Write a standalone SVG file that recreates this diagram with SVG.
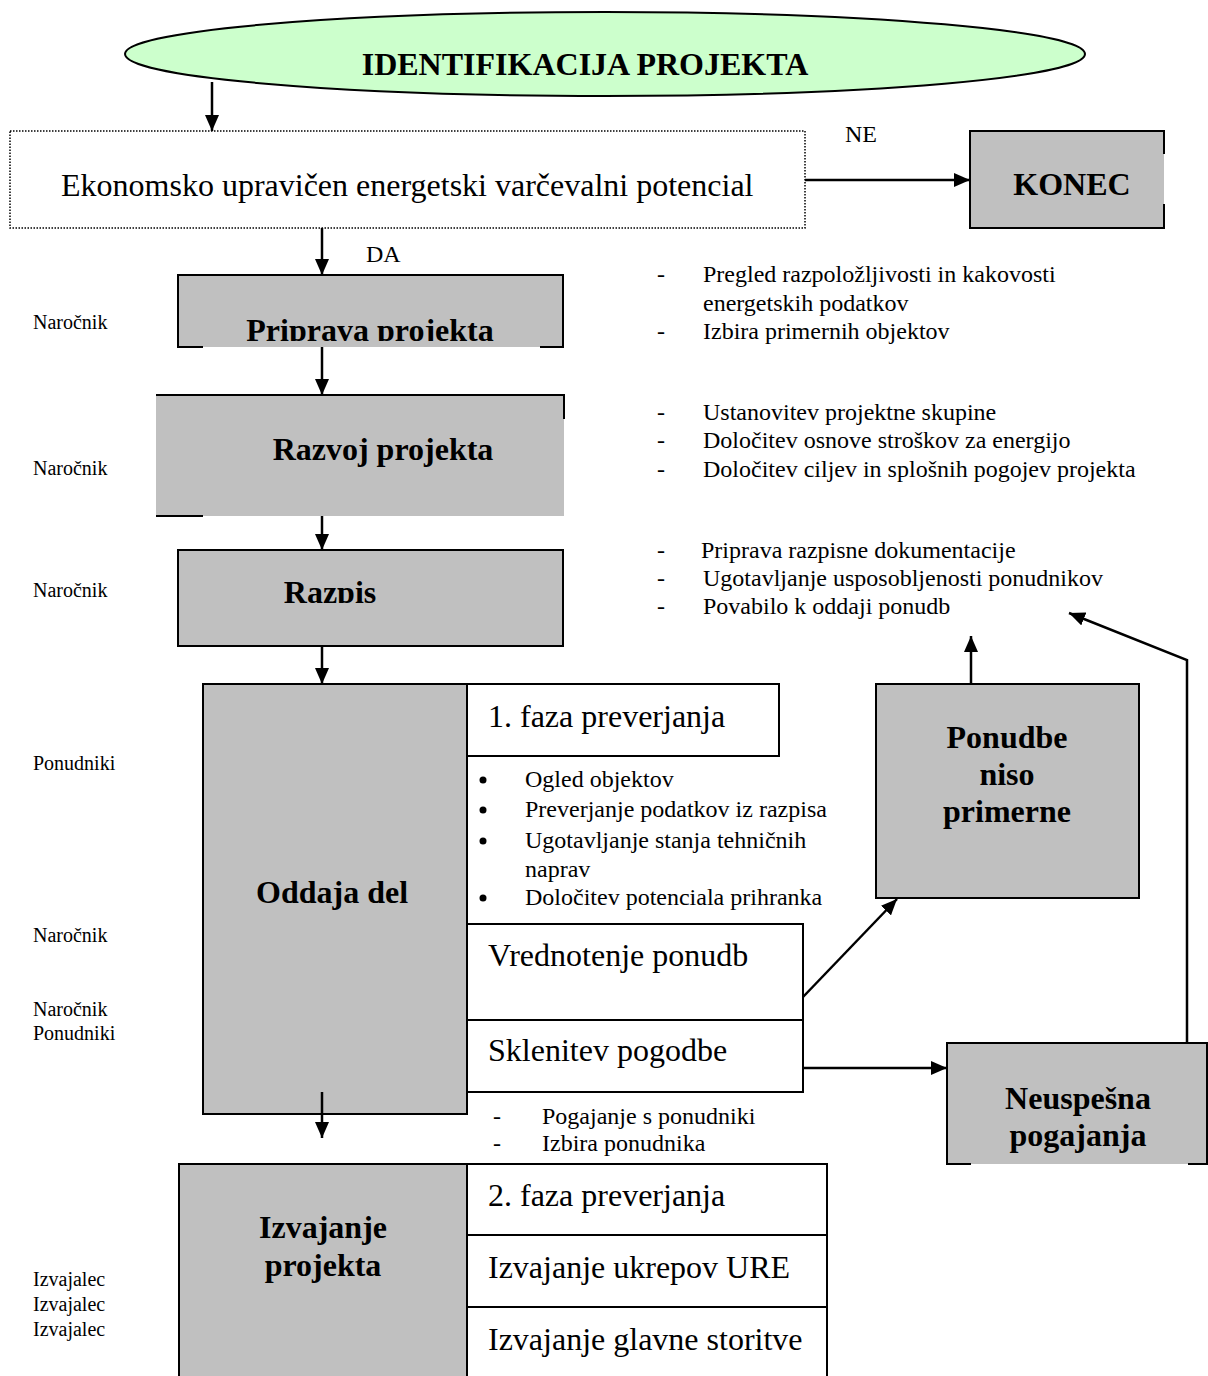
<svg xmlns="http://www.w3.org/2000/svg" width="1208" height="1376" viewBox="0 0 1208 1376">
  <defs>
    <marker id="arrow" markerUnits="userSpaceOnUse" markerWidth="16" markerHeight="14" viewBox="0 0 16 14" refX="16" refY="7" orient="auto">
      <path d="M0,0 L16,7 L0,14 z" fill="#000"/>
    </marker>
    <clipPath id="clipPriprava"><rect x="178" y="275" width="385" height="66"/></clipPath>
    <clipPath id="clipRazpis"><rect x="178" y="550" width="385" height="53"/></clipPath>
  </defs>
  <style>
    text { font-family: "Liberation Serif", "Times New Roman", serif; fill: #000; }
    .big { font-size: 32px; }
    .head { font-size: 32px; font-weight: bold; }
    .mid { font-size: 24px; }
    .lbl { font-size: 20px; }
    .c { text-anchor: middle; }
    .gray { fill: #C0C0C0; stroke: none; }
    .box { fill: #FFFFFF; stroke: #000; stroke-width: 2; }
    .grayBox { fill: #C0C0C0; stroke: #000; stroke-width: 2; }
    .edge { stroke: #000; stroke-width: 2; fill: none; }
    .conn { stroke: #000; stroke-width: 2.5; fill: none; marker-end: url(#arrow); }
  </style>

  <!-- start ellipse -->
  <g id="identifikacija">
    <ellipse cx="605" cy="54" rx="480" ry="42" fill="#CCFFCC" stroke="#000" stroke-width="2"/>
    <text class="head c" x="585" y="75">IDENTIFIKACIJA PROJEKTA</text>
  </g>

  <!-- decision box (dotted) -->
  <g id="potencial">
    <rect x="10" y="131" width="795" height="97" fill="#FFFFFF" stroke="#000" stroke-width="1.5" stroke-dasharray="1.5 1.5"/>
    <text class="big" x="61" y="196">Ekonomsko upravičen energetski varčevalni potencial</text>
  </g>

  <g id="konec">
    <rect class="gray" x="970" y="131" width="194" height="97"/>
    <path class="edge" d="M1164,154 V131 H970 V228 H1164 V204"/>
    <text class="head c" x="1072" y="195">KONEC</text>
  </g>

  <g id="priprava">
    <rect class="gray" x="178" y="275" width="385" height="72"/>
    <path class="edge" d="M203,347 H178 V275 H563 V347 H540"/>
    <text class="head c" x="370" y="341" clip-path="url(#clipPriprava)">Priprava projekta</text>
  </g>

  <g id="razvoj">
    <rect class="gray" x="156" y="395" width="408" height="121"/>
    <path class="edge" d="M156,395 H564 V419"/>
    <path class="edge" d="M156,516 H203"/>
    <text class="head c" x="383" y="460">Razvoj projekta</text>
  </g>

  <g id="razpis">
    <rect class="grayBox" x="178" y="550" width="385" height="96"/>
    <text class="head c" x="330" y="603" clip-path="url(#clipRazpis)">Razpis</text>
  </g>

  <g id="oddaja">
    <rect class="grayBox" x="203" y="684" width="264" height="430"/>
    <text class="head c" x="332" y="903">Oddaja del</text>
  </g>

  <g id="faza1">
    <rect class="box" x="467" y="684" width="312" height="72"/>
    <text class="big" x="488" y="727">1. faza preverjanja</text>
  </g>

  <g id="faza1-tocke">
    <circle cx="483" cy="780" r="3.5"/>
    <circle cx="483" cy="810" r="3.5"/>
    <circle cx="483" cy="841" r="3.5"/>
    <circle cx="483" cy="898" r="3.5"/>
    <text class="mid" x="525" y="787">Ogled objektov</text>
    <text class="mid" x="525" y="817">Preverjanje podatkov iz razpisa</text>
    <text class="mid" x="525" y="848">Ugotavljanje stanja tehničnih</text>
    <text class="mid" x="525" y="877">naprav</text>
    <text class="mid" x="525" y="905">Določitev potenciala prihranka</text>
  </g>

  <g id="vrednotenje">
    <rect class="box" x="467" y="924" width="336" height="96"/>
    <text class="big" x="488" y="966">Vrednotenje ponudb</text>
  </g>

  <g id="sklenitev">
    <rect class="box" x="467" y="1020" width="336" height="72"/>
    <text class="big" x="488" y="1061">Sklenitev pogodbe</text>
  </g>

  <g id="pogajanje-tocke">
    <text class="mid" x="493" y="1124">-</text>
    <text class="mid" x="542" y="1124">Pogajanje s ponudniki</text>
    <text class="mid" x="493" y="1151">-</text>
    <text class="mid" x="542" y="1151">Izbira ponudnika</text>
  </g>

  <g id="izvajanje">
    <rect class="grayBox" x="179" y="1164" width="288" height="220"/>
    <text class="head c" x="323" y="1238">Izvajanje</text>
    <text class="head c" x="323" y="1276">projekta</text>
  </g>

  <g id="faza2">
    <rect class="box" x="467" y="1164" width="360" height="71"/>
    <text class="big" x="488" y="1206">2. faza preverjanja</text>
  </g>
  <g id="ukrepi">
    <rect class="box" x="467" y="1235" width="360" height="72"/>
    <text class="big" x="488" y="1278">Izvajanje ukrepov URE</text>
  </g>
  <g id="glavna">
    <rect class="box" x="467" y="1307" width="360" height="77"/>
    <text class="big" x="488" y="1350">Izvajanje glavne storitve</text>
  </g>

  <g id="ponudbe-niso">
    <rect class="grayBox" x="876" y="684" width="263" height="214"/>
    <text class="head c" x="1007" y="748">Ponudbe</text>
    <text class="head c" x="1007" y="785">niso</text>
    <text class="head c" x="1007" y="822">primerne</text>
  </g>

  <g id="neuspesna">
    <rect class="gray" x="947" y="1043" width="260" height="121"/>
    <path class="edge" d="M971,1164 H947 V1043 H1207 V1164 H1188"/>
    <text class="head c" x="1078" y="1109">Neuspešna</text>
    <text class="head c" x="1078" y="1146">pogajanja</text>
  </g>

  <!-- activity lists -->
  <g id="seznam-priprava">
    <text class="mid" x="657" y="282">-</text>
    <text class="mid" x="703" y="282">Pregled razpoložljivosti in kakovosti</text>
    <text class="mid" x="703" y="311">energetskih podatkov</text>
    <text class="mid" x="657" y="339">-</text>
    <text class="mid" x="703" y="339">Izbira primernih objektov</text>
  </g>
  <g id="seznam-razvoj">
    <text class="mid" x="657" y="420">-</text>
    <text class="mid" x="703" y="420">Ustanovitev projektne skupine</text>
    <text class="mid" x="657" y="448">-</text>
    <text class="mid" x="703" y="448">Določitev osnove stroškov za energijo</text>
    <text class="mid" x="657" y="477">-</text>
    <text class="mid" x="703" y="477">Določitev ciljev in splošnih pogojev projekta</text>
  </g>
  <g id="seznam-razpis">
    <text class="mid" x="657" y="558">-</text>
    <text class="mid" x="701" y="558">Priprava razpisne dokumentacije</text>
    <text class="mid" x="657" y="586">-</text>
    <text class="mid" x="703" y="586">Ugotavljanje usposobljenosti ponudnikov</text>
    <text class="mid" x="657" y="614">-</text>
    <text class="mid" x="703" y="614">Povabilo k oddaji ponudb</text>
  </g>

  <!-- role labels -->
  <g id="vloge">
    <text class="lbl" x="33" y="329">Naročnik</text>
    <text class="lbl" x="33" y="475">Naročnik</text>
    <text class="lbl" x="33" y="597">Naročnik</text>
    <text class="lbl" x="33" y="770">Ponudniki</text>
    <text class="lbl" x="33" y="942">Naročnik</text>
    <text class="lbl" x="33" y="1016">Naročnik</text>
    <text class="lbl" x="33" y="1040">Ponudniki</text>
    <text class="lbl" x="33" y="1286">Izvajalec</text>
    <text class="lbl" x="33" y="1311">Izvajalec</text>
    <text class="lbl" x="33" y="1336">Izvajalec</text>
  </g>

  <!-- connectors -->
  <g id="connectors">
    <line class="conn" x1="212" y1="82" x2="212" y2="131"/>
    <line class="conn" x1="805" y1="180" x2="970" y2="180"/>
    <text class="mid" x="845" y="142">NE</text>
    <line class="conn" x1="322" y1="228" x2="322" y2="275"/>
    <text class="mid" x="366" y="262">DA</text>
    <line class="conn" x1="322" y1="347" x2="322" y2="395"/>
    <line class="conn" x1="322" y1="516" x2="322" y2="550"/>
    <line class="conn" x1="322" y1="646" x2="322" y2="684"/>
    <line class="conn" x1="322" y1="1092" x2="322" y2="1138"/>
    <line class="conn" x1="803" y1="997" x2="897" y2="899"/>
    <line class="conn" x1="803" y1="1068" x2="947" y2="1068"/>
    <line class="conn" x1="971" y1="684" x2="971" y2="636"/>
    <polyline class="conn" points="1187,1043 1187,660 1069,613"/>
  </g>
</svg>
